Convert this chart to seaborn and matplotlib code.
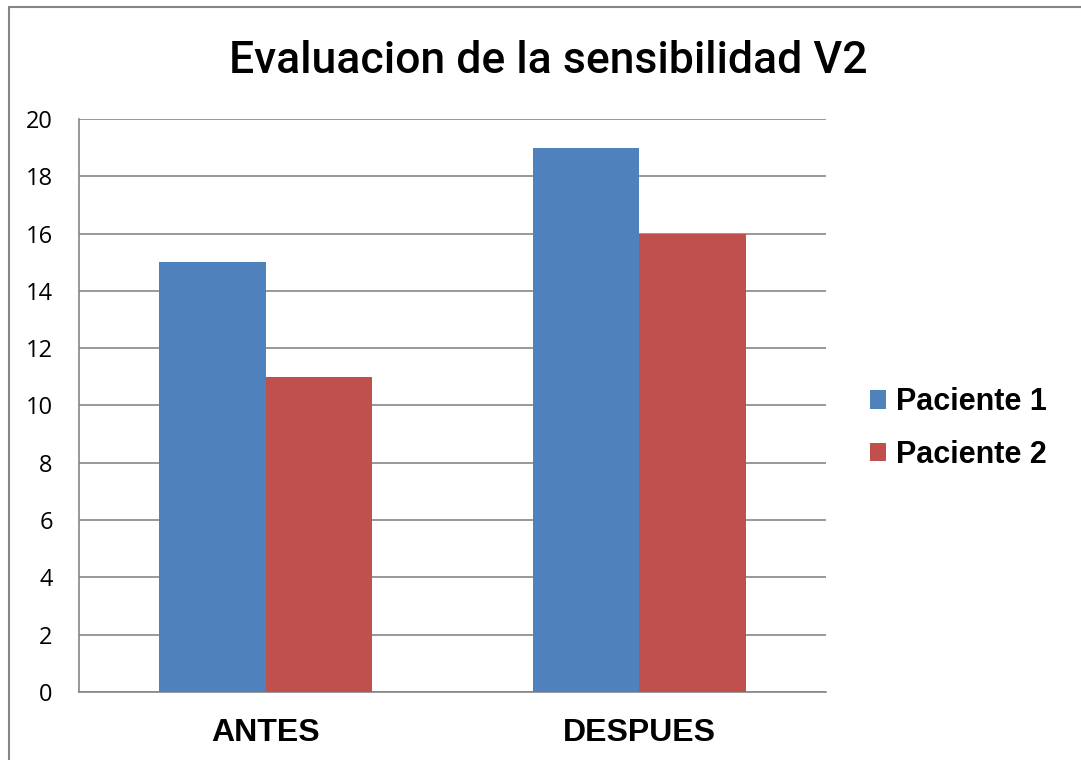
import pandas as pd
import seaborn as sns
import matplotlib.pyplot as plt
from matplotlib.lines import Line2D
from matplotlib.patches import Patch

# chart data
categories = ["ANTES", "DESPUES"]
series = ["Paciente 1", "Paciente 2"]
paciente_1 = [15, 19]
paciente_2 = [11, 16]
yticks = [0, 2, 4, 6, 8, 10, 12, 14, 16, 18, 20]

colors = ["#4F81BD", "#C0504D"]
grid_color = "#868686"

df = pd.DataFrame({
    "momento": categories * 2,
    "paciente": [series[0]] * len(categories) + [series[1]] * len(categories),
    "valor": paciente_1 + paciente_2,
})

sns.set_style("white")
plt.rcParams["text.color"] = "black"
plt.rcParams["xtick.color"] = "black"
plt.rcParams["ytick.color"] = "black"

fig = plt.figure(figsize=(10.81, 7.6), dpi=100)
ax = fig.add_axes([0.0731, 0.0895, 0.691, 0.7539])

sns.barplot(data=df, x="momento", y="valor", hue="paciente", palette=colors,
            width=0.57, saturation=1, edgecolor="none", linewidth=0, ax=ax,
            legend=False, zorder=3)

ax.set_xlim(-0.5, 1.5)
ax.set_ylim(0, 20)
ax.set_yticks(yticks)
ax.yaxis.grid(True, color=grid_color, linewidth=1.2, zorder=0)
ax.set_axisbelow(True)
ax.set_xlabel("")
ax.set_ylabel("")
for s in ["top", "right"]:
    ax.spines[s].set_visible(False)
for s in ["left", "bottom"]:
    ax.spines[s].set_color(grid_color)
    ax.spines[s].set_linewidth(1.2)
ax.tick_params(axis="both", length=0, labelcolor="black")
ax.tick_params(axis="y", pad=19, labelsize=17, labelfontfamily="Open Sans")
ax.tick_params(axis="x", pad=19, labelsize=23, labelfontfamily="Liberation Sans")
for lbl in ax.get_xticklabels():
    lbl.set_fontweight("bold")

fig.text(0.507, 0.92, "Evaluacion de la sensibilidad V2", ha="center", va="center",
         fontfamily="Roboto", fontsize=32, fontweight="medium", color="black")

handles = [Patch(facecolor=c, edgecolor="none") for c in colors]
leg = fig.legend(handles, series, loc="center left", bbox_to_anchor=(0.779, 0.436),
                 frameon=False, handlelength=0.55, handleheight=0.55, handletextpad=0.3,
                 labelspacing=0.75,
                 prop={"family": "Liberation Sans", "weight": "bold", "size": 22})

# outer chart frame
fig.add_artist(Line2D([9 / 1081, 9 / 1081], [0, 1 - 7 / 760], color=grid_color, linewidth=1.5))
fig.add_artist(Line2D([9 / 1081, 1], [1 - 7 / 760, 1 - 7 / 760], color=grid_color, linewidth=1.5))

fig.savefig("out.png", dpi=100)
